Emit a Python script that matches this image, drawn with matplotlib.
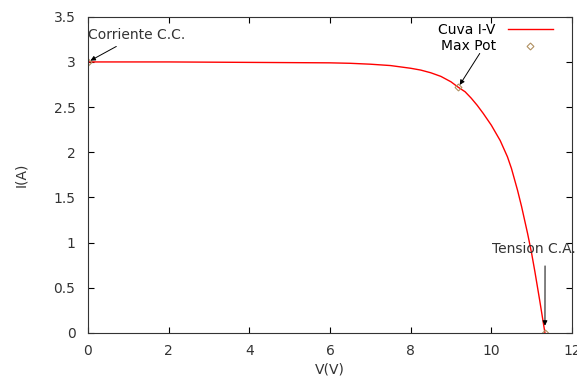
import numpy as np
import matplotlib.pyplot as plt
from matplotlib.ticker import FuncFormatter

# curva I-V
v_curve = [0, 2, 4, 6, 6.5, 7, 7.5, 8, 8.25, 8.5, 8.75, 9, 9.18, 9.35, 9.5, 9.65, 9.8, 10,
           10.22, 10.4, 10.5, 10.65, 10.75, 10.9, 11.0, 11.08, 11.2, 11.33]
i_curve = [3.0, 3.0, 2.995, 2.99, 2.985, 2.975, 2.96, 2.93, 2.91, 2.88, 2.84, 2.78, 2.72, 2.67,
           2.6, 2.52, 2.43, 2.3, 2.13, 1.95, 1.82, 1.58, 1.40, 1.10, 0.88, 0.68, 0.36, 0.0]

# puntos notables
v_pts = [0, 9.18, 11.33]
i_pts = [3.0, 2.72, 0.0]
labels = ['Corriente C.C.', '', 'Tension C.A.']

plt.rcParams['font.family'] = ['DejaVu Sans']
fig = plt.figure(figsize=(5.77, 3.81), dpi=100)
ax = fig.add_axes([0.1525, 0.126, 0.8388, 0.830])

ax.plot(v_curve, i_curve, color='red', linewidth=1, label='Cuva I-V')
ax.plot(v_pts, i_pts, linestyle='none', marker='D', markersize=3.5,
        markerfacecolor='none', markeredgecolor='#b09060', markeredgewidth=0.8,
        label='Max Pot')

txt = '#333333'
arrow = dict(arrowstyle='-|>', color='black', lw=0.7, mutation_scale=7)
ax.annotate(labels[0], xy=(v_pts[0], i_pts[0]), xytext=(0, 3.25),
            fontsize=10, color=txt, arrowprops=arrow)
ax.annotate(labels[1], xy=(v_pts[1], i_pts[1]), xytext=(9.75, 3.12),
            fontsize=10, arrowprops=arrow)
ax.annotate(labels[2], xy=(v_pts[2], i_pts[2] + 0.05), xytext=(11.05, 0.85),
            fontsize=10, color=txt, ha='center', va='bottom',
            arrowprops=dict(arrowstyle='-|>', color='black', lw=0.7,
                            mutation_scale=7, relpos=(0.636, 0), shrinkA=5))

ax.set_xlim(0, 12)
ax.set_ylim(0, 3.5)
ax.set_xticks(np.arange(0, 13, 2))
ax.set_yticks(np.arange(0, 3.51, 0.5))
ax.yaxis.set_major_formatter(FuncFormatter(lambda y, p: f'{y:g}'))
ax.tick_params(direction='in', top=True, right=True, length=4, width=0.8,
               labelsize=10, labelcolor=txt)
ax.tick_params(axis='y', pad=9)
ax.tick_params(axis='x', pad=8)
for s in ax.spines.values():
    s.set_linewidth(0.8)
    s.set_color(txt)

ax.set_xlabel('V(V)', fontsize=10, color=txt, labelpad=3)
ax.set_ylabel('I(A)', fontsize=10, color=txt, labelpad=18)

ax.legend(loc='upper right', bbox_to_anchor=(0.98, 1.01), markerfirst=False,
          frameon=False, fontsize=10, handlelength=3.2, labelspacing=0.15,
          borderaxespad=0.3, handletextpad=0.9)

fig.savefig('out.png', dpi=100)
